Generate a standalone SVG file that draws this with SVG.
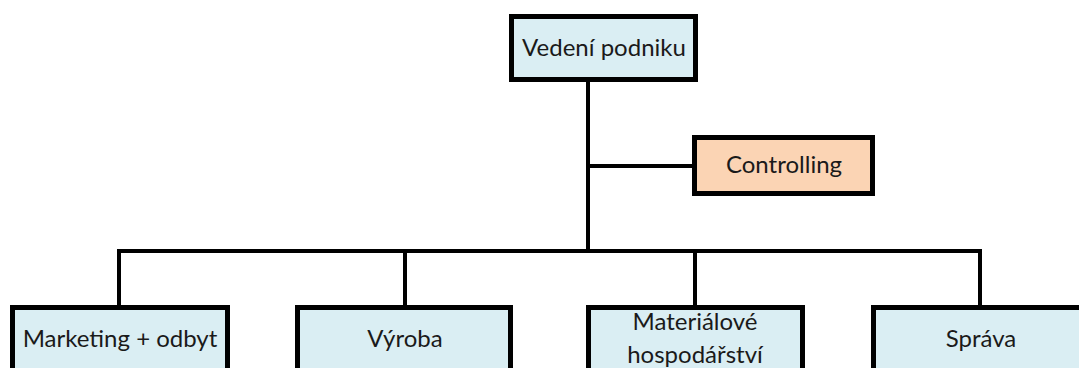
<svg xmlns="http://www.w3.org/2000/svg" width="1079" height="368" viewBox="0 0 1079 368">
  <style>
    .box { fill: #DAEEF3; stroke: #000; stroke-width: 5; }
    .ctrl { fill: #FBD4B4; stroke: #000; stroke-width: 5; }
    .lbl { font-family: Lato, "Open Sans", sans-serif; font-size: 24px; fill: #1a1a1a; text-anchor: middle; }
    .wire { fill: none; stroke: #000; stroke-width: 4; }
  </style>
  <rect width="1079" height="368" fill="#fff"/>

  <!-- connectors -->
  <g id="connectors">
    <path class="wire" d="M588 82 V251"/>
    <path class="wire" d="M588 166 H692"/>
    <path class="wire" d="M117 251 H982"/>
    <path class="wire" d="M119 251 V305"/>
    <path class="wire" d="M405 251 V305"/>
    <path class="wire" d="M695 251 V305"/>
    <path class="wire" d="M980 251 V305"/>
  </g>

  <g id="vedeni">
    <rect class="box" x="511.5" y="16.5" width="184" height="63"/>
    <text class="lbl" x="604" y="56">Vedení podniku</text>
  </g>

  <g id="controlling">
    <rect class="ctrl" x="694.5" y="137.5" width="178" height="56"/>
    <text class="lbl" x="784" y="173">Controlling</text>
  </g>

  <g id="marketing">
    <rect class="box" x="12.5" y="307.5" width="215" height="100"/>
    <text class="lbl" x="120" y="347">Marketing + odbyt</text>
  </g>

  <g id="vyroba">
    <rect class="box" x="297.5" y="307.5" width="213" height="100"/>
    <text class="lbl" x="405" y="347">Výroba</text>
  </g>

  <g id="material">
    <rect class="box" x="588.5" y="307.5" width="214" height="100"/>
    <text class="lbl" x="695" y="330">Materiálové</text>
    <text class="lbl" x="695" y="363">hospodářství</text>
  </g>

  <g id="sprava">
    <rect class="box" x="873.5" y="307.5" width="300" height="100"/>
    <text class="lbl" x="981" y="347">Správa</text>
  </g>
</svg>
